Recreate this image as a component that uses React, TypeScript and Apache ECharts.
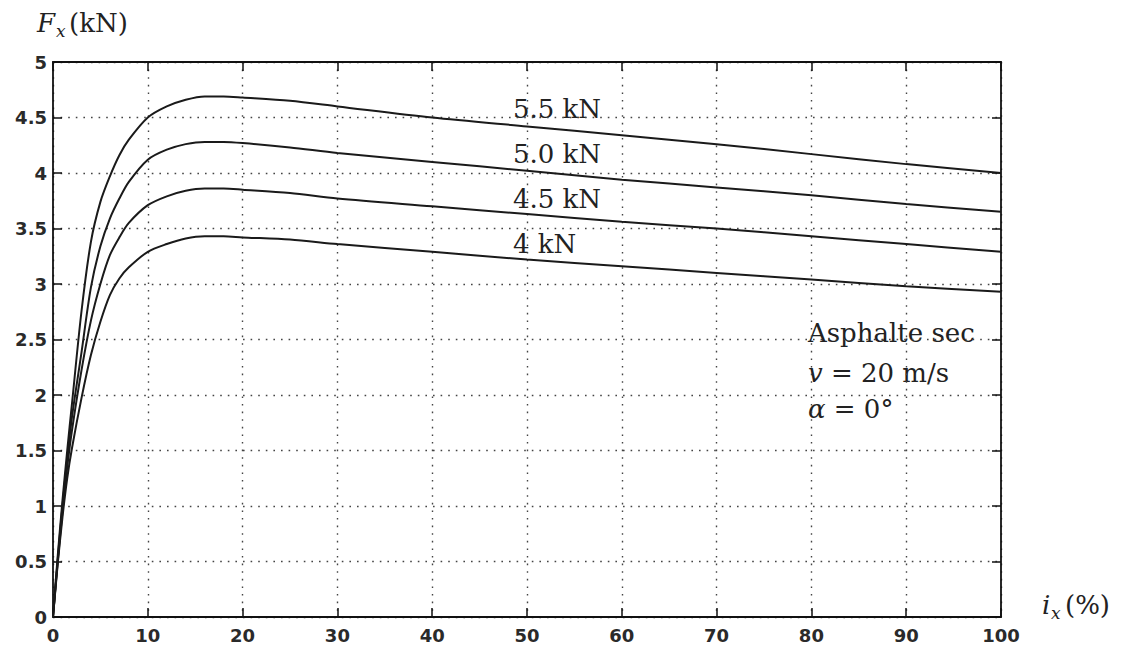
import React, { useEffect, useRef } from "react";
import * as echarts from "echarts";

// Slip ratio i_x (%) sample points
const slip = [0, 0.5, 1, 1.5, 2, 3, 4, 5, 6, 7, 8, 10, 12, 14, 16, 18, 20, 25, 30, 40, 50, 60, 70, 80, 90, 100];

// Longitudinal force F_x (kN) for each vertical load
const fx55 = [0, 0.55, 1.05, 1.5, 1.92, 2.75, 3.38, 3.74, 3.97, 4.16, 4.3, 4.5, 4.6, 4.66, 4.69, 4.69, 4.68, 4.65, 4.6, 4.5, 4.42, 4.34, 4.26, 4.17, 4.08, 4.0];
const fx50 = [0, 0.52, 1.0, 1.42, 1.8, 2.38, 2.97, 3.34, 3.59, 3.77, 3.92, 4.12, 4.21, 4.26, 4.28, 4.28, 4.27, 4.23, 4.18, 4.1, 4.02, 3.94, 3.87, 3.8, 3.72, 3.65];
const fx45 = [0, 0.5, 0.95, 1.35, 1.68, 2.22, 2.67, 3.0, 3.26, 3.42, 3.55, 3.71, 3.79, 3.84, 3.86, 3.86, 3.85, 3.82, 3.77, 3.7, 3.63, 3.56, 3.5, 3.43, 3.36, 3.29];
const fx40 = [0, 0.48, 0.9, 1.25, 1.52, 1.97, 2.36, 2.66, 2.9, 3.05, 3.15, 3.29, 3.36, 3.41, 3.43, 3.43, 3.42, 3.4, 3.36, 3.29, 3.22, 3.16, 3.1, 3.04, 2.98, 2.93];

const loadLabels = ["5.5 kN", "5.0 kN", "4.5 kN", "4 kN"];
const seriesValues = [fx55, fx50, fx45, fx40];
const conditions = ["Asphalte sec", "{it|v} = 20 m/s", "{it|α} = 0°"];

const xTicks = { min: 0, max: 100, interval: 10 };
const yTicks = { min: 0, max: 5, interval: 0.5 };

const serif = "'DejaVu Serif', 'Liberation Serif', serif";
const sans = "'DejaVu Sans', 'Liberation Sans', sans-serif";

export default function App() {
  const ref = useRef<HTMLDivElement>(null);
  useEffect(() => {
    if (!ref.current) return;
    const chart = echarts.init(ref.current, undefined, { renderer: "svg" });
    const axisLine = { show: true, onZero: false, lineStyle: { color: "#111", width: 1.8 } };
    const axisTick = { show: true, inside: true, length: 9, lineStyle: { color: "#111", width: 1.5 } };
    const grid = { show: true, lineStyle: { type: [1.6, 6], color: "#444", width: 1.4 } };
    const label = { fontFamily: sans, fontWeight: "bold", fontSize: 18, color: "#2a2a2a" };

    const labelY = [109, 154, 199, 244];
    const condY = [333, 373, 409];
    const txt = (text: string, x: number, y: number, size: number, italic: boolean) => ({
      type: "text", x, y,
      style: {
        text, fontFamily: serif, fontSize: size, fontStyle: italic ? "italic" : "normal",
        fill: "#222", verticalAlign: "middle", align: "left",
      },
    });

    chart.setOption({
      animation: false,
      backgroundColor: "#fff",
      grid: { left: 53, right: 121, top: 62, bottom: 29, containLabel: false },
      xAxis: [
        {
          type: "value", ...xTicks, position: "bottom",
          axisLine, axisTick, splitLine: grid,
          axisLabel: { ...label, margin: 9 },
        },
        {
          type: "value", ...xTicks, position: "top",
          axisLine, axisTick, splitLine: { show: false }, axisLabel: { show: false },
        },
      ],
      yAxis: [
        {
          type: "value", ...yTicks, position: "left",
          axisLine, axisTick, splitLine: grid,
          axisLabel: { ...label, margin: 6 },
        },
        {
          type: "value", ...yTicks, position: "right",
          axisLine, axisTick, splitLine: { show: false }, axisLabel: { show: false },
        },
      ],
      series: seriesValues.map((vals, i) => ({
        name: loadLabels[i],
        type: "line",
        xAxisIndex: 0,
        yAxisIndex: 0,
        data: slip.map((x, j) => [x, vals[j]]),
        smooth: 0.3,
        showSymbol: false,
        lineStyle: { color: "#1a1a1a", width: 2 },
      })),
      graphic: [
        // y axis title F_x(kN)
        txt("F", 37, 23, 26, true),
        txt("x", 56, 31, 17, true),
        txt("(kN)", 69, 23, 26, false),
        // x axis title i_x(%)
        txt("i", 1042, 605, 26, true),
        txt("x", 1051, 613, 17, true),
        txt("(%)", 1065, 605, 26, false),
        // load labels
        ...loadLabels.map((t, i) => txt(t, 513, labelY[i], 26, false)),
        // conditions
        ...conditions.map((t, i) => ({
          type: "text", x: 808, y: condY[i],
          style: {
            text: t, fontFamily: serif, fontSize: 26, fill: "#222",
            verticalAlign: "middle", align: "left",
            rich: { it: { fontStyle: "italic", fontFamily: serif, fontSize: 26, fill: "#222" } },
          },
        })),
      ],
    });
    return () => chart.dispose();
  }, []);
  return (
    <div
      ref={ref}
      style={{ position: "fixed", left: 0, top: 0, width: 1122, height: 646, background: "#fff" }}
    />
  );
}
